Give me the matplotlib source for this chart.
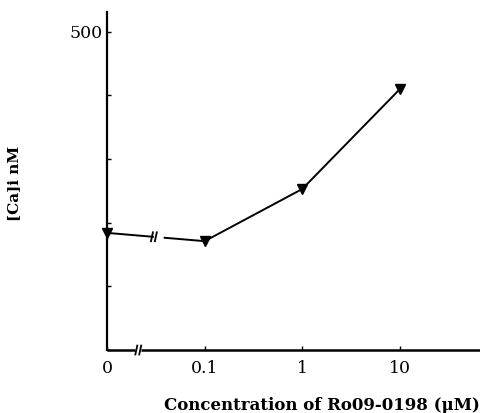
import numpy as np
import matplotlib
matplotlib.use("Agg")
import matplotlib.pyplot as plt

# Data
concentrations = [0, 0.1, 1, 10]          # µM
x_labels = ["0", "0.1", "1", "10"]
ca_nM = [184, 171, 253, 410]             # [Ca]i nM
y_ticks = [0, 100, 200, 300, 400, 500]
y_tick_labels = ["", "", "", "", "", "500"]

def pos(c):
    return 0.0 if c == 0 else np.log10(c) + 2

xp = np.array([pos(c) for c in concentrations])
yv = np.array(ca_nM, dtype=float)

plt.rcParams['font.family'] = ['DejaVu Serif']
fig = plt.figure(figsize=(4.8, 4.13), dpi=100)
ax = fig.add_axes([0.223, 0.1525, 0.777, 0.8185])
ax.set_xlim(0, 3.82)
ax.set_ylim(0, 531)

# line with break between first two points
g0, g1 = 0.47, 0.59
def interp(x):
    return np.interp(x, xp[:2], yv[:2])
ax.plot([xp[0], g0], [yv[0], interp(g0)], color='black', lw=1.4, clip_on=False)
ax.plot([g1, xp[1]], [interp(g1), yv[1]], color='black', lw=1.4, clip_on=False)
ax.plot(xp[1:], yv[1:], color='black', lw=1.4)
ax.plot(xp, yv, linestyle='none', marker='v', color='black', markersize=7, clip_on=False, zorder=5)

def slashes(xc, yc):
    for dx in (-0.02, 0.02):
        ax.plot([xc + dx - 0.01, xc + dx + 0.01], [yc - 7, yc + 7], color='black', lw=1.3, clip_on=False)

slashes(g0 + 0.01, interp(g0))

# x axis with break
ax.spines['bottom'].set_visible(False)
ax.spines['top'].set_visible(False)
ax.spines['right'].set_visible(False)
ax.spines['left'].set_linewidth(1.6)
b0, b1 = 0.29, 0.35
ax.plot([0, b0], [0, 0], color='black', lw=1.8, clip_on=False, solid_capstyle='butt')
ax.plot([b1, 3.82], [0, 0], color='black', lw=1.8, clip_on=False, solid_capstyle='butt')
slashes((b0 + b1) / 2, 0)

ax.set_xticks(xp)
ax.set_xticklabels(x_labels, fontsize=12.5)
ax.set_yticks(y_ticks)
ax.set_yticklabels(y_tick_labels, fontsize=12.5)
ax.tick_params(axis='both', direction='in', length=3, width=1, pad=7)
ax.tick_params(axis='y', pad=3)

ax.set_ylabel("[Ca]i nM", fontsize=11, fontweight='bold')
ax.yaxis.set_label_coords(-0.231, 0.494)
ax.set_xlabel("Concentration of Ro09-0198 (\u03bcM)", fontsize=12, fontweight='bold', va='center')
ax.xaxis.set_label_coords(0.575, -0.163)

fig.savefig("out.png", dpi=100)
